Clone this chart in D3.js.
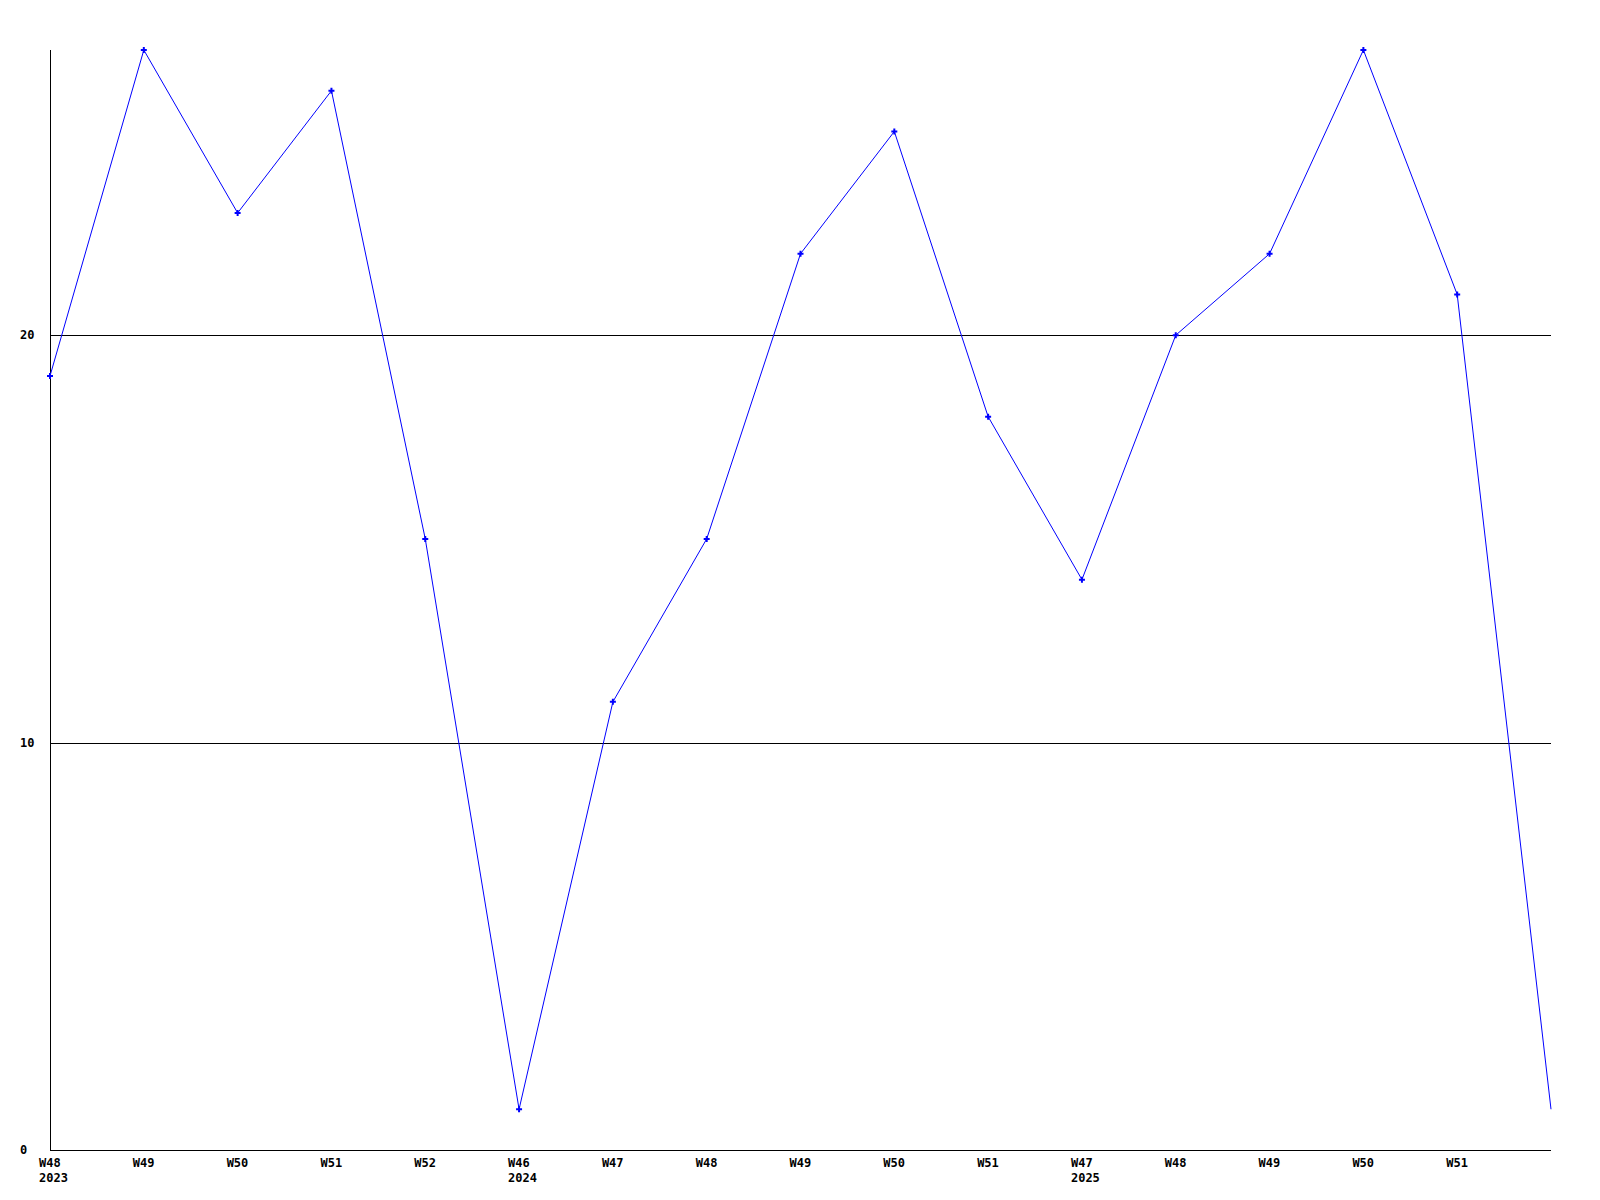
<!DOCTYPE html>
<html>
<head>
<meta charset="utf-8">
<script src="https://cdn.jsdelivr.net/npm/d3@7"></script>
<style>
  body { margin: 0; background: #fff; }
  svg text { font-family: "DejaVu Sans Mono", monospace; font-weight: bold; font-size: 12px; fill: #000; }
</style>
</head>
<body>
<svg id="chart" width="1600" height="1200"></svg>
<script>
// weeks along the bottom, the year is printed under the first week of each year
var weeks = ["W48", "W49", "W50", "W51", "W52", "W46", "W47", "W48", "W49", "W50", "W51", "W47", "W48", "W49", "W50", "W51", ""]
var years = ["2023", "", "", "", "", "2024", "", "", "", "", "", "2025", "", "", "", "", ""]
var counts = [19, 27, 23, 26, 15, 1, 11, 15, 22, 25, 18, 14, 20, 22, 27, 21, 1]
var yTicks = [0, 10, 20]

var svg = d3.select("#chart")
var plot = {left: 50, right: 1551, top: 50, bottom: 1150}

var x = d3.scaleLinear().domain([0, counts.length - 1]).range([plot.left, plot.right])
var y = d3.scaleLinear().domain([0, 27]).range([plot.bottom, plot.top])

// horizontal grid lines
svg.selectAll(".grid")
  .data(yTicks.filter(function(d) { return d > 0 }))
  .enter().append("line")
  .attr("x1", plot.left).attr("x2", plot.right)
  .attr("y1", function(d) { return Math.round(y(d)) + 0.5 })
  .attr("y2", function(d) { return Math.round(y(d)) + 0.5 })
  .attr("stroke", "#000").attr("stroke-width", 1)

svg.selectAll(".ylab")
  .data(yTicks)
  .enter().append("text")
  .attr("x", 20)
  .attr("y", function(d) { return y(d) + 4 })
  .text(function(d) { return d })

// axes
svg.append("line").attr("x1", plot.left + 0.5).attr("x2", plot.left + 0.5).attr("y1", plot.top).attr("y2", plot.bottom + 1)
  .attr("stroke", "#000")
svg.append("line").attr("x1", plot.left).attr("x2", plot.right).attr("y1", plot.bottom + 0.5).attr("y2", plot.bottom + 0.5)
  .attr("stroke", "#000")

svg.selectAll(".xlab")
  .data(weeks)
  .enter().append("text")
  .attr("x", function(d, i) { return x(i) - 11 })
  .attr("y", 1167)
  .text(function(d) { return d })

svg.selectAll(".yearlab")
  .data(years)
  .enter().append("text")
  .attr("x", function(d, i) { return x(i) - 11 })
  .attr("y", 1182)
  .text(function(d) { return d })

var line = d3.line()
  .x(function(d, i) { return x(i) })
  .y(function(d) { return y(d) })

svg.append("path")
  .datum(counts)
  .attr("d", line)
  .attr("fill", "none")
  .attr("stroke", "#0000ff")
  .attr("stroke-width", 1)

svg.selectAll(".pt")
  .data(counts.slice(0, counts.length - 1))
  .enter().append("path")
  .attr("transform", function(d, i) { return "translate(" + x(i) + "," + y(d) + ")" })
  .attr("d", d3.symbol().type(d3.symbolCross).size(20))
  .attr("fill", "#0000ff")
</script>
</body>
</html>
